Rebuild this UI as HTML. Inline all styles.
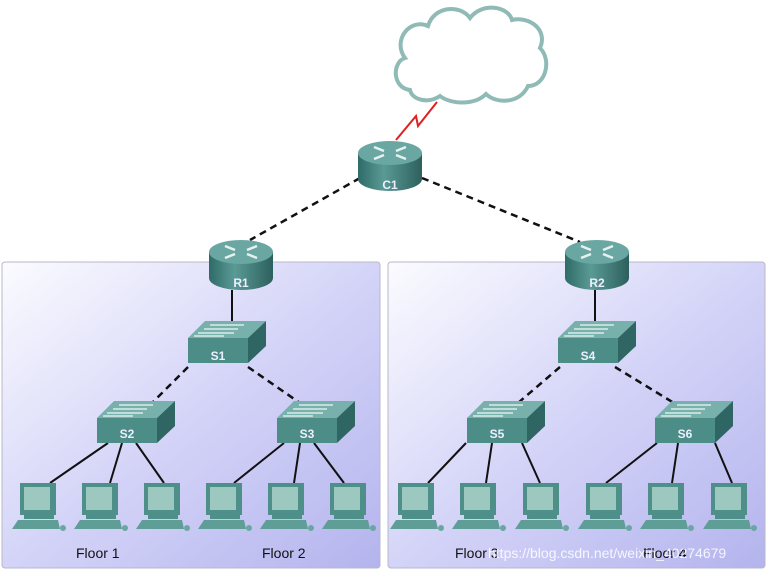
<!DOCTYPE html>
<html><head><meta charset="utf-8"><style>
body{margin:0;background:#fff;width:767px;height:572px;overflow:hidden}
svg{display:block}
text{font-family:"Liberation Sans",sans-serif}
</style></head><body>
<svg width="767" height="572" viewBox="0 0 767 572">
<defs>
<linearGradient id="pg" x1="0" y1="0" x2="1" y2="1">
<stop offset="0" stop-color="#fbfbff"/><stop offset="0.5" stop-color="#d4d4f8"/><stop offset="1" stop-color="#b4b4ee"/>
</linearGradient>
<linearGradient id="rb" x1="0" y1="0" x2="1" y2="0">
<stop offset="0" stop-color="#2f6b68"/><stop offset="0.4" stop-color="#5a9a95"/><stop offset="1" stop-color="#2d605d"/>
</linearGradient>
<g id="router">
<path d="M-32 0 V26 A32 12 0 0 0 32 26 V0 Z" fill="url(#rb)"/>
<ellipse cx="0" cy="0" rx="32" ry="12" fill="#6aa7a2"/>
<path d="M-16 -6 l10 4 M16 -6 l-10 4 M-16 6 l10 -4 M16 6 l-10 -4" stroke="#e6f2f0" stroke-width="2.5"/>
</g>
<g id="switch">
<polygon points="0,0 17,-17 78,-17 60,0" fill="#78b1ac"/>
<polygon points="60,0 78,-17 78,8 60,25" fill="#2f6562"/>
<rect x="0" y="0" width="60" height="25" fill="#4d8d88"/>
<path d="M22 -13 h34 M16 -9 h34 M10 -5 h36 M6 -2 h30" stroke="#d8ecea" stroke-width="1.5"/>
</g>
<g id="pc">
<rect x="0" y="0" width="36" height="32" fill="#4f8f89"/>
<rect x="4" y="4" width="26" height="23" fill="#9cc8c0"/>
<rect x="4" y="32" width="30" height="4" fill="#4f8f89"/>
<polygon points="-2,37 38,37 40,46 -8,46" fill="#5f9e97"/>
<circle cx="43" cy="45" r="3" fill="#6aa7a0"/>
</g>
</defs>
<rect x="2" y="262" width="378" height="306" rx="3" fill="url(#pg)" stroke="#b8b8c8"/>
<rect x="388" y="262" width="377" height="306" rx="3" fill="url(#pg)" stroke="#b8b8c8"/>
<!-- cloud -->
<path d="M410 90 C392 88 392 62 405 58 C392 40 410 18 428 26 C434 6 460 4 470 18 C482 2 508 6 512 20 C530 16 548 30 540 48 C552 60 546 86 528 86 C520 104 496 104 486 94 C474 106 450 104 440 96 C428 104 412 100 410 90 Z" fill="#fff" stroke="#8fbab5" stroke-width="4"/>
<polyline points="437,102 418,126 416,116 396,140" fill="none" stroke="#e02020" stroke-width="2"/>
<!-- links -->
<g stroke="#111" stroke-width="2.5" stroke-dasharray="7,5" fill="none">
<line x1="360" y1="178" x2="250" y2="240"/>
<line x1="422" y1="178" x2="580" y2="242"/>
<line x1="188" y1="367" x2="152" y2="403"/>
<line x1="248" y1="367" x2="300" y2="403"/>
<line x1="560" y1="367" x2="518" y2="403"/>
<line x1="615" y1="367" x2="674" y2="403"/>
</g>
<g stroke="#111" stroke-width="2" fill="none">
<line x1="232" y1="290" x2="232" y2="322"/>
<line x1="595" y1="290" x2="595" y2="322"/>
<line x1="108" y1="443" x2="50" y2="483"/><line x1="122" y1="443" x2="110" y2="483"/><line x1="136" y1="443" x2="164" y2="483"/>
<line x1="284" y1="443" x2="234" y2="483"/><line x1="300" y1="443" x2="294" y2="483"/><line x1="314" y1="443" x2="344" y2="483"/>
<line x1="466" y1="443" x2="428" y2="483"/><line x1="492" y1="443" x2="486" y2="483"/><line x1="522" y1="443" x2="540" y2="483"/>
<line x1="657" y1="443" x2="606" y2="483"/><line x1="678" y1="443" x2="672" y2="483"/><line x1="715" y1="443" x2="732" y2="483"/>
</g>
<!-- routers -->
<use href="#router" x="390" y="153"/>
<use href="#router" x="241" y="252"/>
<use href="#router" x="597" y="252"/>
<!-- switches -->
<use href="#switch" x="188" y="338"/>
<use href="#switch" x="558" y="338"/>
<use href="#switch" x="97" y="418"/>
<use href="#switch" x="277" y="418"/>
<use href="#switch" x="467" y="418"/>
<use href="#switch" x="655" y="418"/>
<!-- pcs -->
<use href="#pc" x="20" y="483"/><use href="#pc" x="82" y="483"/><use href="#pc" x="144" y="483"/>
<use href="#pc" x="206" y="483"/><use href="#pc" x="268" y="483"/><use href="#pc" x="330" y="483"/>
<use href="#pc" x="398" y="483"/><use href="#pc" x="460" y="483"/><use href="#pc" x="523" y="483"/>
<use href="#pc" x="586" y="483"/><use href="#pc" x="648" y="483"/><use href="#pc" x="711" y="483"/>
<g fill="#eef" font-size="12" font-weight="bold" text-anchor="middle">
<text x="390" y="189">C1</text><text x="241" y="287">R1</text><text x="597" y="287">R2</text>
<text x="218" y="360">S1</text><text x="588" y="360">S4</text>
<text x="127" y="438">S2</text><text x="307" y="438">S3</text><text x="497" y="438">S5</text><text x="685" y="438">S6</text>
</g>
<g fill="#111" font-size="14">
<text x="76" y="558">Floor 1</text><text x="262" y="558">Floor 2</text>
<text x="455" y="558">Floor 3</text><text x="643" y="558">Floor 4</text>
</g>
<text x="488" y="558" font-size="14" fill="#fff" fill-opacity="0.85">https://blog.csdn.net/weixin_40274679</text>
</svg>
</body></html>
